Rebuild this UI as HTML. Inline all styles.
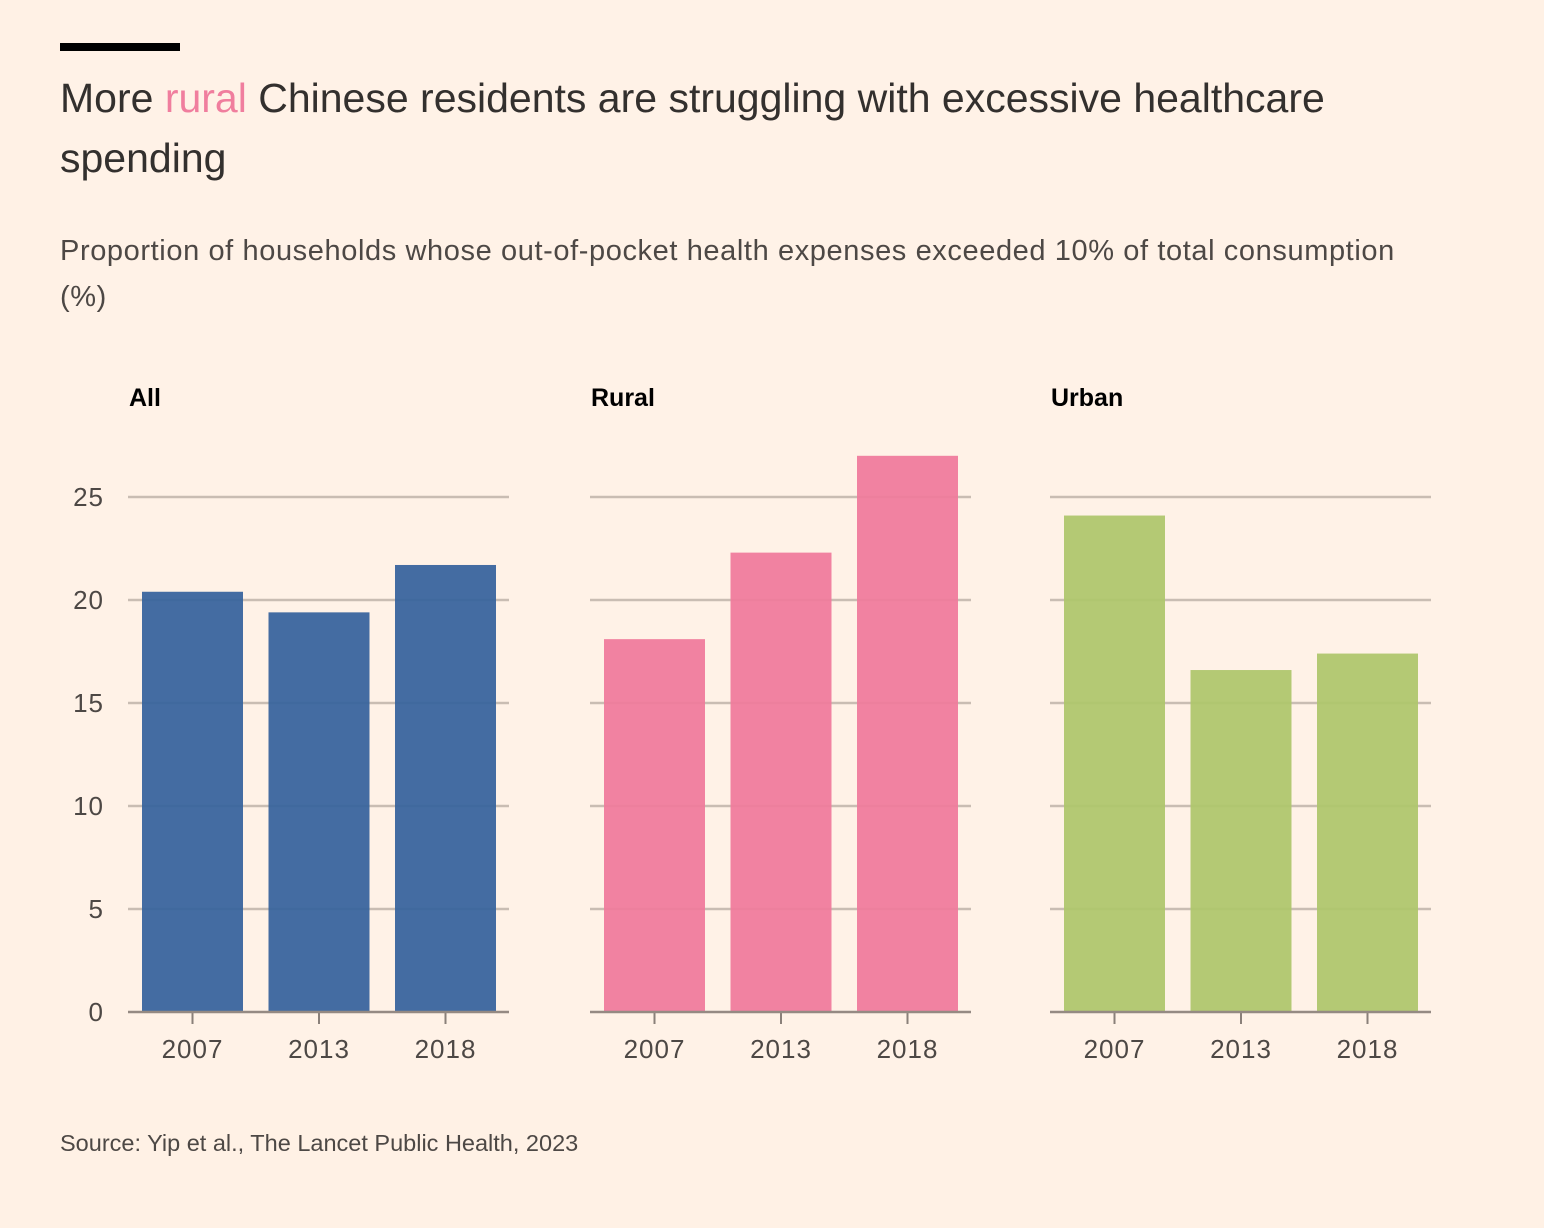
<!DOCTYPE html>
<html><head><meta charset="utf-8"><style>
html,body{margin:0;padding:0;background:#fff1e5;}
body{width:1544px;height:1228px;position:relative;font-family:"Liberation Sans",sans-serif;overflow:hidden;}
#panel{position:absolute;left:60px;top:0;width:1400px;height:1100px;background:#fff2e7;}
#bar-top{position:absolute;left:60px;top:43px;width:120px;height:8px;background:#000;}
h1{position:absolute;left:60px;top:68px;margin:0;font-weight:normal;font-size:41px;line-height:60px;color:#33302e;width:1320px;}
#sub{position:absolute;left:60px;top:228px;font-size:29px;letter-spacing:0.6px;line-height:46px;color:#4d4845;width:1390px;}
#src{position:absolute;left:60px;top:1130px;font-size:23.5px;color:#4d4845;}
svg{position:absolute;left:0;top:0;}
</style></head><body>
<div id="panel"></div>
<div id="bar-top"></div>
<h1>More <span style="color:#f07e9e">rural</span> Chinese residents are struggling with excessive healthcare spending</h1>
<div id="sub">Proportion of households whose out-of-pocket health expenses exceeded 10% of total consumption (%)</div>
<div id="src">Source: Yip et al., The Lancet Public Health, 2023</div>
<svg id="chart" width="1544" height="1228"></svg>
<script>
const categories=["2007","2013","2018"];
const panelNames=["All","Rural","Urban"];
const allValues=[20.4,19.4,21.7];
const ruralValues=[18.1,22.3,27.0];
const urbanValues=[24.1,16.6,17.4];
const yTicks=[0,5,10,15,20,25];
const series=[allValues,ruralValues,urbanValues];
const colors=["#36629c","#f07a9b","#aec66a"];
const ns="http://www.w3.org/2000/svg";
const svg=document.getElementById('chart');
const y0=1012,pxPerUnit=20.6;
function y(v){return y0-v*pxPerUnit;}
const panelLeft=[128,590,1050],panelW=381;
function bx(p,i){return panelLeft[p]+14+i*126.5;}
function mk(t,a){const e=document.createElementNS(ns,t);for(const k in a)e.setAttribute(k,a[k]);svg.appendChild(e);return e;}
for(let p=0;p<3;p++){
  let t=mk('text',{x:panelLeft[p]+1,y:406,'font-size':25,'font-weight':'bold',fill:'#000'});
  t.textContent=panelNames[p];
  
  
  yTicks.forEach(v=>{
    if(v>0){const l=mk('line',{x1:panelLeft[p],x2:panelLeft[p]+panelW,y1:y(v),y2:y(v),stroke:'#c9bdb3','stroke-width':2.5});
    
    }
    if(p===0){const tt=mk('text',{x:104,y:y(v)+9,'font-size':26,'letter-spacing':1,fill:'#4d4845','text-anchor':'end'});tt.textContent=v;
    
    }
  });
  series[p].forEach((v,i)=>{
    const r=mk('rect',{x:bx(p,i),y:y(v),width:101,height:v*pxPerUnit,fill:colors[p],opacity:0.93});
    
    
    const tk=mk('line',{x1:bx(p,i)+50.5,x2:bx(p,i)+50.5,y1:y0,y2:y0+12,stroke:'#8a807a','stroke-width':2});
    
    
    const lb=mk('text',{x:bx(p,i)+50.5,y:1058,'font-size':26,'letter-spacing':1,fill:'#4d4845','text-anchor':'middle'});lb.textContent=categories[i];
    
    
  });
  const ax=mk('line',{x1:panelLeft[p],x2:panelLeft[p]+panelW,y1:y0,y2:y0,stroke:'#958a83','stroke-width':2.5});
  
  
}
</script>
</body></html>
